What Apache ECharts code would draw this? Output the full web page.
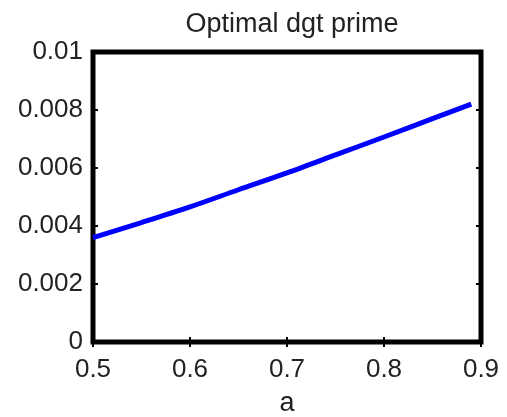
<!DOCTYPE html>
<html>
<head>
<meta charset="utf-8">
<script src="https://cdn.jsdelivr.net/npm/echarts@6/dist/echarts.min.js"></script>
<style>
  html, body { margin: 0; padding: 0; background: #fff; }
  #chart { width: 507px; height: 417px; }
</style>
</head>
<body>
<div id="chart"></div>
<script>
// Optimal dgt prime as a function of a
const aValues = [0.5, 0.55, 0.6, 0.65, 0.7, 0.75, 0.8, 0.85, 0.89];
const dgtPrime = [0.0036, 0.00412, 0.00466, 0.00525, 0.00583, 0.00645, 0.00707, 0.0077, 0.0082];
const xTicks = [0.5, 0.6, 0.7, 0.8, 0.9];
const yTicks = [0, 0.002, 0.004, 0.006, 0.008, 0.01];

const FONT = '"Liberation Sans", Arial, sans-serif';
const TXT = '#222';

const chart = echarts.init(document.getElementById('chart'), null, { renderer: 'canvas' });

const tickStyle = { show: true, inside: true, length: 5, lineStyle: { color: '#000', width: 2 } };

function xAxisDef(position, labels) {
  return {
    type: 'value', position: position,
    min: xTicks[0], max: xTicks[xTicks.length - 1], interval: 0.1,
    axisLine: { show: false },
    axisTick: tickStyle,
    splitLine: { show: false },
    axisLabel: {
      show: labels, margin: 15, color: TXT, fontSize: 26, fontFamily: FONT,
      formatter: v => (+v).toFixed(1)
    },
    name: labels ? 'a' : '', nameLocation: 'middle', nameGap: 48,
    nameTextStyle: { color: TXT, fontSize: 27, fontFamily: FONT }
  };
}

function yAxisDef(position, labels) {
  return {
    type: 'value', position: position,
    min: yTicks[0], max: yTicks[yTicks.length - 1], interval: 0.002,
    axisLine: { show: false },
    axisTick: tickStyle,
    splitLine: { show: false },
    axisLabel: {
      show: labels, margin: 10, color: TXT, fontSize: 26, fontFamily: FONT,
      formatter: v => String(+(+v).toFixed(3))
    }
  };
}

chart.setOption({
  animation: false,
  backgroundColor: '#fff',
  title: {
    text: 'Optimal dgt prime', left: 287, top: 6, textAlign: 'center',
    textStyle: { color: TXT, fontSize: 27, fontWeight: 'normal', fontFamily: FONT }
  },
  grid: {
    left: 93, right: 26, top: 52, bottom: 75,
    containLabel: false, outerBoundsMode: 'none',
    show: true, borderColor: '#000', borderWidth: 5, backgroundColor: 'transparent'
  },
  xAxis: [xAxisDef('bottom', true), xAxisDef('top', false)],
  yAxis: [yAxisDef('left', true), yAxisDef('right', false)],
  series: [{
    type: 'line',
    data: aValues.map((a, i) => [a, dgtPrime[i]]),
    xAxisIndex: 0, yAxisIndex: 0,
    showSymbol: false, smooth: 0.3,
    lineStyle: { color: '#0000ff', width: 5 },
    z: 1
  }]
});
</script>
</body>
</html>
